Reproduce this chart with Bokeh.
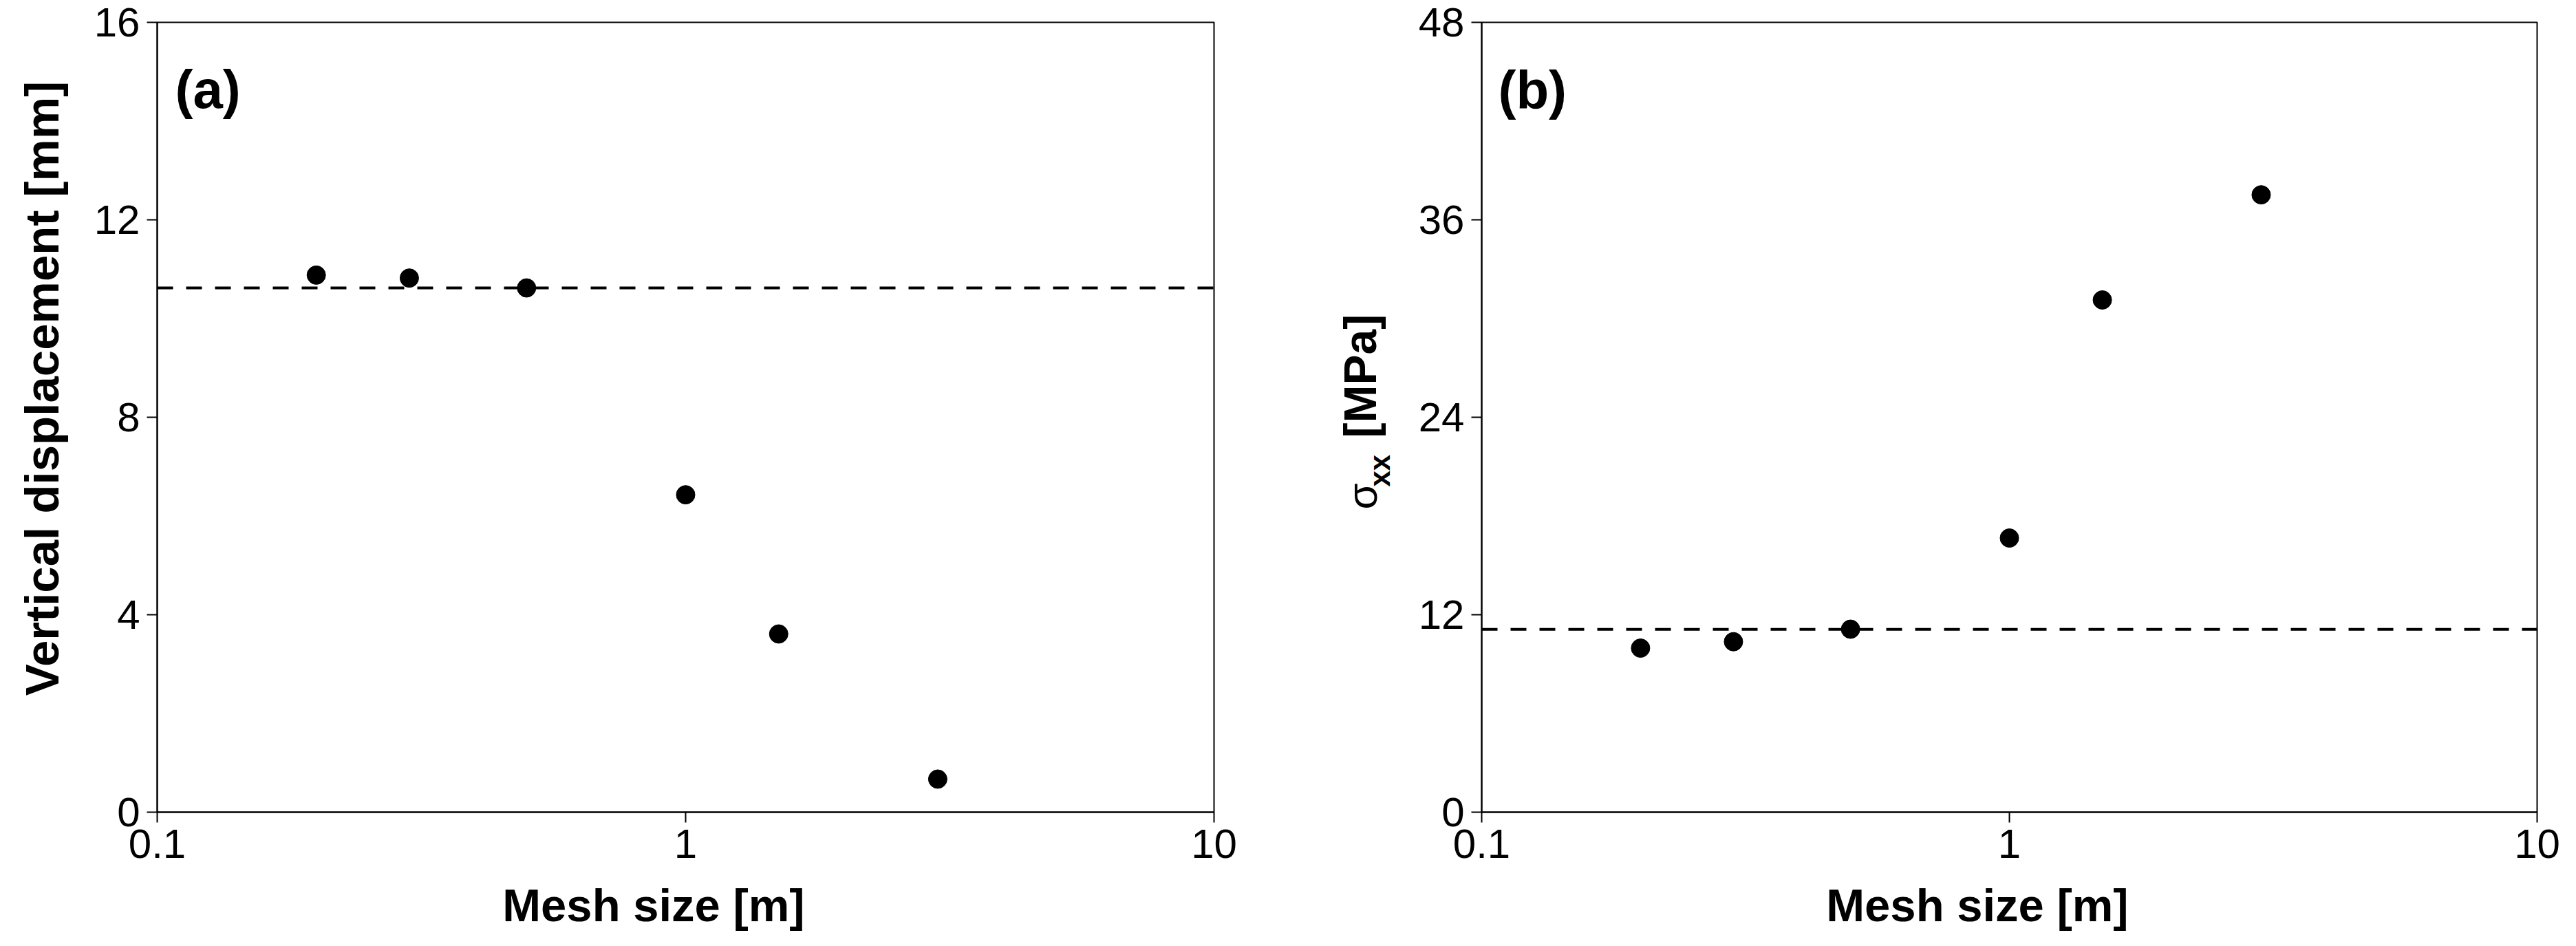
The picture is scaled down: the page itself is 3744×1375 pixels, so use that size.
import math
from bokeh.plotting import figure
from bokeh.models import FixedTicker, Span, Label
from bokeh.layouts import row
from bokeh.embed import file_html
from bokeh.resources import INLINE

# ---- data ----
mesh_size = [0.2, 0.3, 0.5, 1.0, 1.5, 3.0]
vertical_disp = [10.88, 10.82, 10.62, 6.43, 3.61, 0.67]
vertical_disp_ref = 10.62
sigma_xx = [9.97, 10.36, 11.12, 16.66, 31.13, 37.52]
sigma_xx_ref = 11.11

x_ticks = [0.1, 1, 10]
x_tick_labels = ["0.1", "1", "10"]
y_ticks_a = [0, 4, 8, 12, 16]
y_ticks_b = [0, 12, 24, 36, 48]

FONT = "Liberation Sans"
H = 1359
FRAME_H = 1148
NBSP = "\u00a0"


def make_panel(frame_w, b_left, b_right, ymax, yticks):
    p = figure(frame_width=frame_w, frame_height=FRAME_H, x_axis_type="log",
               x_range=(0.1, 10), y_range=(0, ymax),
               output_backend="svg", toolbar_location=None,
               min_border_left=b_left, min_border_right=b_right,
               min_border_top=32, min_border_bottom=179)
    p.xgrid.visible = False
    p.ygrid.visible = False
    p.outline_line_color = "black"
    p.outline_line_width = 2
    p.background_fill_color = "white"
    p.border_fill_color = "white"

    p.xaxis.ticker = FixedTicker(ticks=x_ticks)
    p.xaxis.major_label_overrides = {t: l for t, l in zip(x_ticks, x_tick_labels)}
    p.yaxis.ticker = FixedTicker(ticks=yticks)
    for ax in (p.xaxis, p.yaxis):
        ax.axis_line_width = 2
        ax.axis_line_color = "black"
        ax.major_tick_line_width = 2
        ax.major_tick_line_color = "black"
        ax.major_tick_in = 0
        ax.major_tick_out = 15
        ax.minor_tick_line_color = None
        ax.major_label_text_font = FONT
        ax.major_label_text_font_size = "60px"
        ax.major_label_text_color = "black"
    p.xaxis.major_label_standoff = 10
    p.yaxis.major_label_standoff = 10
    # x-axis title (trailing no-break spaces shift it left as in the original)
    p.xaxis.axis_label = "Mesh size [m]" + NBSP * 5
    p.xaxis.axis_label_text_font = FONT
    p.xaxis.axis_label_text_font_size = "67px"
    p.xaxis.axis_label_text_font_style = "bold"
    p.xaxis.axis_label_text_color = "black"
    p.xaxis.axis_label_standoff = 28
    return p


def label_fig(width):
    p = figure(width=width, height=H, x_range=(0, 1), y_range=(0, 1),
               output_backend="svg", toolbar_location=None,
               x_axis_location=None, y_axis_location=None,
               min_border=0)
    p.grid.visible = False
    p.outline_line_color = None
    p.background_fill_color = "white"
    p.border_fill_color = "white"
    return p


def txt(p, text, x, y, size, bold=True, angle=0.0, align="left", baseline="alphabetic"):
    p.add_layout(Label(x=x, y=y, x_units="screen", y_units="screen", text=text,
                       angle=angle, text_align=align, text_baseline=baseline,
                       text_font=FONT, text_font_size=size,
                       text_font_style="bold" if bold else "normal",
                       text_color="black"))


# ---- y-label strip for (a) ----
la = label_fig(112)
txt(la, "Vertical displacement [mm]", 61, 616, "69px", angle=math.pi / 2, align="center")

# ---- panel (a) ----
pa = make_panel(1536, 116, 128, 16, y_ticks_a)
pa.add_layout(Span(location=vertical_disp_ref, dimension="width",
                   line_color="black", line_width=4, line_dash="23 19"))
pa.scatter(mesh_size, vertical_disp, size=27, marker="circle",
           fill_color="black", line_color="black")
txt(pa, "(a)", 26, 1051, "78px")

# ---- y-label strip for (b) ----
lb = label_fig(140)
txt(lb, "σ", 87, 440, "62px", bold=False, angle=math.pi / 2)
txt(lb, "xx", 113, 473, "42px", angle=math.pi / 2)
txt(lb, "[MPa]", 84, 544, "66px", angle=math.pi / 2)

# ---- panel (b) ----
pb = make_panel(1534, 121, 41, 48, y_ticks_b)
pb.add_layout(Span(location=sigma_xx_ref, dimension="width",
                   line_color="black", line_width=4, line_dash="23 19"))
pb.scatter(mesh_size, sigma_xx, size=27, marker="circle",
           fill_color="black", line_color="black")
txt(pb, "(b)", 24, 1050, "78px")

layout = row(la, pa, lb, pb)
open("out.html", "w").write(file_html(layout, INLINE))
